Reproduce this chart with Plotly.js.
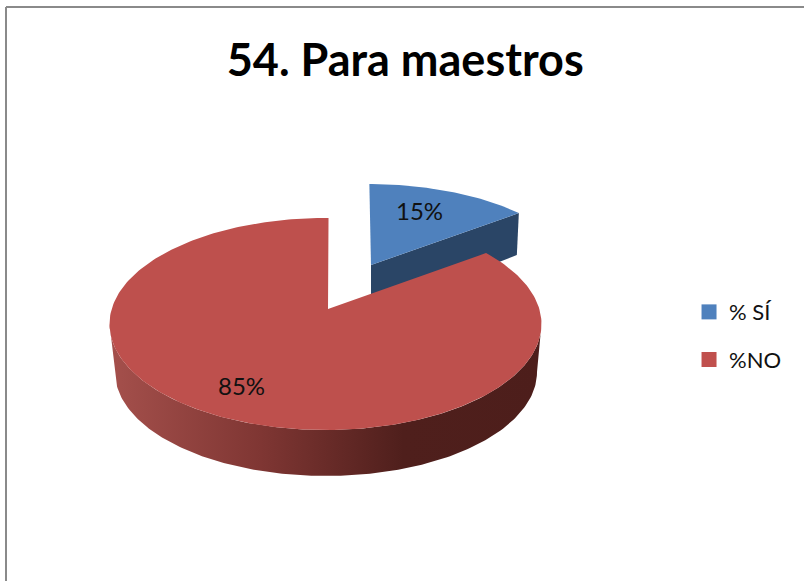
<!DOCTYPE html>
<html>
<head>
<meta charset="utf-8">
<script src="https://cdn.plot.ly/plotly-3.0.1.min.js"></script>
<style>html,body{margin:0;padding:0;background:#fff}#chart{width:804px;height:581px}</style>
</head>
<body>
<div id="chart"></div>
<script>
// Data
const titleText = "54. Para maestros";
const labels = ["% SÍ", "%NO"];
const values = [15, 85];

// Style
const topColors = ["#4f81bd", "#be504d"];
const legendColors = ["#4f81bd", "#c0504d"];
const cutColor = "#2a4566";
const wallScale = [[0, "#a5504c"], [0.35, "#7f3633"], [0.68, "#4f1f1c"], [1, "#4d1e1b"]];
const fontName = "Lato, Carlito, Calibri, sans-serif";

// Projection of the tilted disc, in plot units
const discs = [
  {cx: 366.5, cy: 272, rx: 205, ry: 88, ax: 371, ay: 265},
  {cx: 325.5, cy: 324, rx: 216, ry: 106, ax: 328, ay: 309}
];
const depth = 47;
const lowerDisc = {cx: 326, cy: 372, rx: 211, ry: 104};

const deg = Math.PI / 180;
const total = values.reduce((a, b) => a + b, 0);
// perspective distortion of the sweep angle
const warp = t => t + 0.8 - 7.15 * Math.sin(2 * t * deg);
const rim = (d, t) => {
  const a = warp(t) * deg;
  return [d.cx + d.rx * Math.sin(a), d.cy - d.ry * Math.cos(a)];
};
const rangeOf = (a, b, step) => {
  const out = [];
  for (let t = a; t < b; t += step) out.push(t);
  out.push(b);
  return out;
};

// slice angular extents come from the values
let acc = 0;
const spans = values.map(v => {
  const s = [acc / total * 360, (acc + v) / total * 360];
  acc += v;
  return s;
});

const poly = (pts, extra) => Object.assign({
  x: pts.map(p => p[0]), y: pts.map(p => p[1]),
  mode: "lines", line: {width: 0}, fill: "toself",
  hoverinfo: "skip", showlegend: false, type: "scatter"
}, extra);

const traces = [];

// blue cut face + outer wall end
const blueEnd = rim(discs[0], spans[0][1]);
traces.push(poly([
  [discs[0].ax, discs[0].ay],
  blueEnd,
  [blueEnd[0] - 2, blueEnd[1] + 42],
  [discs[0].ax, discs[0].ay + depth]
], {fillcolor: cutColor}));

// blue top
const blueRim = rangeOf(spans[0][0], spans[0][1], 1).map(t => rim(discs[0], t));
traces.push(poly([[discs[0].ax, discs[0].ay], ...blueRim], {fillcolor: topColors[0]}));

// red wall (front half of the rim)
const ell = (d, t) => [d.cx + d.rx * Math.sin(t * deg), d.cy - d.ry * Math.cos(t * deg)];
const upper = rangeOf(90, 270, 1).map(t => ell(discs[1], t));
const lower = rangeOf(90, 270, 1).reverse().map(t => ell(lowerDisc, t));
traces.push(poly([...upper, ...lower], {
  fillgradient: {type: "horizontal", colorscale: wallScale}
}));

// red top
const redRim = rangeOf(spans[1][0], spans[1][1], 1).map(t => rim(discs[1], t));
traces.push(poly([[discs[1].ax, discs[1].ay], ...redRim], {fillcolor: topColors[1]}));

// legend entries
labels.forEach((name, i) => traces.push({
  type: "scatter", mode: "markers", x: [null], y: [null], name,
  legendgroup: name,
  marker: {symbol: "square", size: 15, color: legendColors[i]},
  hoverinfo: "skip"
}));

const pct = values.map(v => Math.round(v / total * 100) + "%");
const labelAt = [[419, 210], [241, 385]];

const layout = {
  width: 804, height: 581,
  margin: {l: 0, r: 0, t: 0, b: 0},
  paper_bgcolor: "#ffffff", plot_bgcolor: "#ffffff",
  title: {
    text: "<b>" + titleText + "</b>",
    font: {family: fontName, size: 45, color: "#000000"},
    x: 0.504, xanchor: "center", xref: "paper",
    y: 0.897, yanchor: "middle", yref: "paper"
  },
  xaxis: {range: [0, 804], visible: false, fixedrange: true},
  yaxis: {range: [581, 0], visible: false, fixedrange: true},
  showlegend: true,
  legend: {
    x: 0.857, y: 0.499, xanchor: "left", yanchor: "top",
    font: {family: fontName, size: 22, color: "#111111"},
    tracegroupgap: 16, bgcolor: "rgba(0,0,0,0)", borderwidth: 0
  },
  annotations: pct.map((t, i) => ({
    text: t, x: labelAt[i][0], y: labelAt[i][1], xref: "x", yref: "y",
    showarrow: false, xanchor: "center", yanchor: "middle",
    font: {family: fontName, size: 24, color: "#111111"}
  })),
  shapes: [
    {type: "line", xref: "paper", yref: "paper", x0: 6 / 804, x1: 1, y0: 1 - 7 / 581, y1: 1 - 7 / 581,
     line: {color: "#8a8a8a", width: 2}},
    {type: "line", xref: "paper", yref: "paper", x0: 6 / 804, x1: 6 / 804, y0: 1 - 7 / 581, y1: 0,
     line: {color: "#8a8a8a", width: 2}}
  ]
};

Plotly.newPlot("chart", traces, layout, {displayModeBar: false, staticPlot: true});
</script>
</body>
</html>
